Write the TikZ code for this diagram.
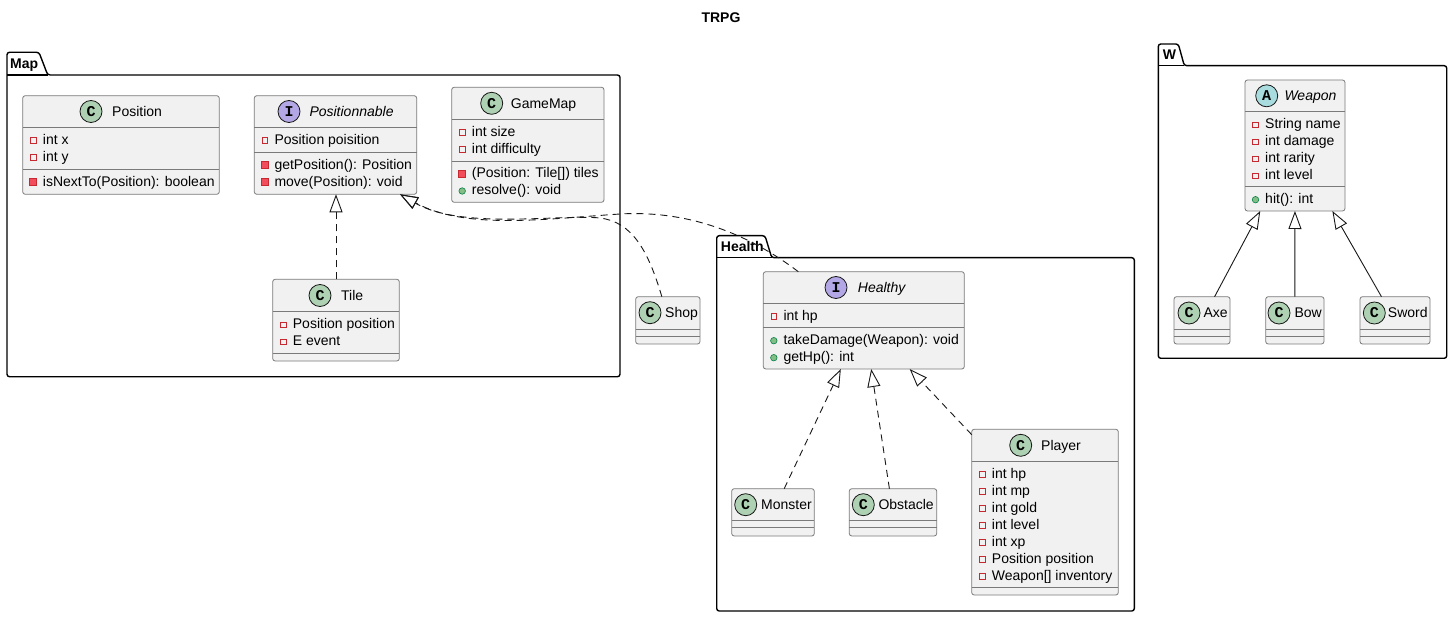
\documentclass[tikz,border=0pt]{standalone}
\usepackage{fontspec}
\setmainfont{Liberation Sans}
\newfontfamily\spotfont{Liberation Mono}
\usetikzlibrary{arrows.meta,calc}

\definecolor{clsfill}{HTML}{F1F1F1}
\definecolor{clsline}{HTML}{7A7A7A}
\definecolor{spotC}{HTML}{ADD1B2}
\definecolor{spotI}{HTML}{B4A7E5}
\definecolor{spotA}{HTML}{A9DCDF}
\definecolor{privline}{HTML}{C82930}
\definecolor{privfill}{HTML}{F24D5C}
\definecolor{pubfill}{HTML}{84BE84}
\definecolor{publine}{HTML}{038048}
\definecolor{edgecol}{HTML}{181818}

\tikzset{
 cls/.style={draw=clsline, fill=clsfill, rounded corners=2.5pt, line width=0.8pt, inner sep=0pt, outer sep=0pt, anchor=north west},
 sepl/.style={draw=clsline, line width=0.8pt},
 spot/.style={circle, draw=edgecol, line width=0.8pt, minimum size=22pt, inner sep=0pt, font=\spotfont\bfseries\fontsize{15}{15}\selectfont},
 txt/.style={anchor=base west, inner sep=0pt, font=\fontsize{14}{17}\selectfont, text=black},
 privA/.style={rectangle, draw=privline, line width=0.8pt, minimum size=5.5pt, inner sep=0pt},
 privM/.style={rectangle, draw=privline, fill=privfill, line width=0.7pt, minimum size=7pt, inner sep=0pt},
 pubM/.style={circle, draw=publine, fill=pubfill, line width=0.6pt, minimum size=6.5pt, inner sep=0pt},
 pkg/.style={draw=black, line width=1.4pt, rounded corners=2.5pt},
 pkglabel/.style={anchor=base west, inner sep=0pt, font=\bfseries\fontsize{14}{17}\selectfont},
 real/.style={draw=edgecol, line width=0.9pt, dash pattern=on 7pt off 5pt, -{Triangle[open, length=18pt, width=13pt]}},
 ext/.style={draw=edgecol, line width=0.9pt, -{Triangle[open, length=18pt, width=13pt]}},
}

% box: id, x1, y1, x2, y2, sep1, sep2
\newcommand\umlbox[7]{%
 \node[cls, minimum width={#4pt-#2pt}, minimum height={#5pt-#3pt}] (#1) at (#2,#3) {};
 \draw[sepl] (#2,#6) -- (#4,#6);
 \draw[sepl] (#2,#7) -- (#4,#7);}
% head: id, cx, cy, colour, letter, name x, name
\newcommand\umlhead[7]{%
 \node[spot, fill=#4] (#1s) at (#2,#3) {#5};
 \node[txt] (#1) at (#6,#3+5) {#7};}
% member: id, icon style, box left, baseline, text
\newcommand\umlmem[5]{%
 \node[#2] (#1i) at (#3+10.5,#4-4) {};
 \node[txt] (#1) at (#3+20,#4) {#5};}

\begin{document}
\begin{tikzpicture}[x=1pt, y=-1pt]
\useasboundingbox (0,0) rectangle (1453,617);
\fill[white] (0,0) rectangle (1453,617);

\node[anchor=base, inner sep=0pt, font=\bfseries\fontsize{14}{17}\selectfont] (title) at (721,22.7) {TRPG};

% packages
\draw[pkg] (7,75) -- (7,52.3) -- (39,52.3) -- (47.7,75) -- (620,75) -- (620,376.7) -- (7,376.7) -- cycle;
\draw[pkg] (7,75) -- (47.7,75);
\node[pkglabel] (mapL) at (10,68.3) {Map};

\draw[pkg] (716.7,257.7) -- (716.7,235.7) -- (765,235.7) -- (771.7,257.7) -- (1134.3,257.7) -- (1134.3,611) -- (716.7,611) -- cycle;
\draw[pkg] (716.7,257.7) -- (771.7,257.7);
\node[pkglabel] (healthL) at (720.7,251.7) {Health};

\draw[pkg] (1158.3,65.7) -- (1158.3,44) -- (1178.3,44) -- (1184.3,65.7) -- (1446.7,65.7) -- (1446.7,358.3) -- (1158.3,358.3) -- cycle;
\draw[pkg] (1158.3,65.7) -- (1184.3,65.7);
\node[pkglabel] (wL) at (1162.7,60) {W};

% Position
\umlbox{pos}{22.7}{95.7}{219.3}{194.3}{127.3}{169.3}
\umlhead{posH}{91}{111.5}{spotC}{C}{112}{Position}
\umlmem{posA1}{privA}{22.7}{144.3}{int x}
\umlmem{posA2}{privA}{22.7}{161.3}{int y}
\umlmem{posM1}{privM}{22.7}{186.3}{isNextTo(Position): boolean}

% Positionnable
\umlbox{positionnable}{254.3}{95.7}{416.7}{194.3}{127.3}{152.3}
\umlhead{pnH}{289}{111.5}{spotI}{I}{309.3}{\itshape Positionnable}
\umlmem{pnA1}{privA}{254.3}{144.3}{Position poisition}
\umlmem{pnM1}{privM}{254.3}{169.3}{getPosition(): Position}
\umlmem{pnM2}{privM}{254.3}{186.3}{move(Position): void}

% GameMap
\umlbox{gamemap}{451.7}{87.3}{604}{202.3}{119.3}{161}
\umlhead{gmH}{491.7}{103.3}{spotC}{C}{510.7}{GameMap}
\umlmem{gmA1}{privA}{451.7}{136.3}{int size}
\umlmem{gmA2}{privA}{451.7}{153.3}{int difficulty}
\umlmem{gmM1}{privM}{451.7}{178}{(Position: Tile[]) tiles}
\umlmem{gmM2}{pubM}{451.7}{195}{resolve(): void}

% Tile
\umlbox{tile}{272.7}{279.3}{399.3}{361}{311.7}{353.3}
\umlhead{tiH}{320}{295.5}{spotC}{C}{341}{Tile}
\umlmem{tiA1}{privA}{272.7}{328.7}{Position position}
\umlmem{tiA2}{privA}{272.7}{345.7}{E event}

% Shop
\umlbox{shop}{635.7}{296.7}{700}{344}{329}{336}
\umlhead{shH}{650}{312.7}{spotC}{C}{665}{Shop}

% Healthy
\umlbox{healthy}{763.3}{271.7}{964.3}{369}{303.3}{327.7}
\umlhead{hyH}{836}{287.5}{spotI}{I}{857.7}{\itshape Healthy}
\umlmem{hyA1}{privA}{763.3}{320.3}{int hp}
\umlmem{hyM1}{pubM}{763.3}{344.7}{takeDamage(Weapon): void}
\umlmem{hyM2}{pubM}{763.3}{361.7}{getHp(): int}

% Monster, Obstacle
\umlbox{monster}{731.7}{488.7}{814.3}{536}{520.7}{527.7}
\umlhead{moH}{745.7}{504.7}{spotC}{C}{761}{Monster}
\umlbox{obstacle}{849.3}{488.7}{936.7}{536}{520.7}{527.7}
\umlhead{obH}{863.3}{504.7}{spotC}{C}{878.3}{Obstacle}

% Player
\umlbox{player}{971.7}{429.3}{1118.3}{595}{461.3}{587.3}
\umlhead{plH}{1020.7}{445.3}{spotC}{C}{1041}{Player}
\umlmem{plA1}{privA}{971.7}{478.3}{int hp}
\umlmem{plA2}{privA}{971.7}{495.3}{int mp}
\umlmem{plA3}{privA}{971.7}{512.3}{int gold}
\umlmem{plA4}{privA}{971.7}{529.3}{int level}
\umlmem{plA5}{privA}{971.7}{546.3}{int xp}
\umlmem{plA6}{privA}{971.7}{563.3}{Position position}
\umlmem{plA7}{privA}{971.7}{580.3}{Weapon[] inventory}

% Weapon
\umlbox{weapon}{1245}{80}{1345}{211}{111.7}{186.7}
\umlhead{wpH}{1266.7}{95.8}{spotA}{A}{1284.3}{\itshape Weapon}
\umlmem{wpA1}{privA}{1245}{128.7}{String name}
\umlmem{wpA2}{privA}{1245}{145.7}{int damage}
\umlmem{wpA3}{privA}{1245}{162.7}{int rarity}
\umlmem{wpA4}{privA}{1245}{179.7}{int level}
\umlmem{wpM1}{pubM}{1245}{203.7}{hit(): int}

% Axe, Bow, Sword
\umlbox{axe}{1174}{296.7}{1230}{344}{329.3}{336.7}
\umlhead{axH}{1189}{313}{spotC}{C}{1203.3}{Axe}
\umlbox{bow}{1265.7}{296.7}{1324}{344}{329.3}{336.7}
\umlhead{boH}{1279}{313}{spotC}{C}{1294.3}{Bow}
\umlbox{sword}{1360}{296.7}{1430}{344}{329.3}{336.7}
\umlhead{swH}{1374.3}{313}{spotC}{C}{1387.7}{Sword}

% connectors
\draw[real] (tile) -- (tile |- positionnable.south);
\coordinate (pa) at ($(positionnable.south east)+(-16.7,0)$);
\coordinate (shopTop) at ($(shop.north)+(-6,0)$);
\coordinate (healthyTop) at ($(healthy.north west)+(35,0)$);
\draw[real] (shopTop) .. controls (648,250) and (632,222) .. (600,218) .. controls (560,214) and (462,230) .. (pa);
\draw[real] (healthyTop) .. controls (750,235) and (690,210) .. (620,214) .. controls (545,219) and (465,230) .. (pa);
\draw[real] (monster) -- (healthy);
\draw[real] (obstacle) -- (healthy);
\draw[real] (player) -- (healthy);
\draw[ext] (axe) -- (weapon);
\draw[ext] (bow) -- (weapon);
\draw[ext] (sword) -- (weapon);
\end{tikzpicture}
\end{document}
